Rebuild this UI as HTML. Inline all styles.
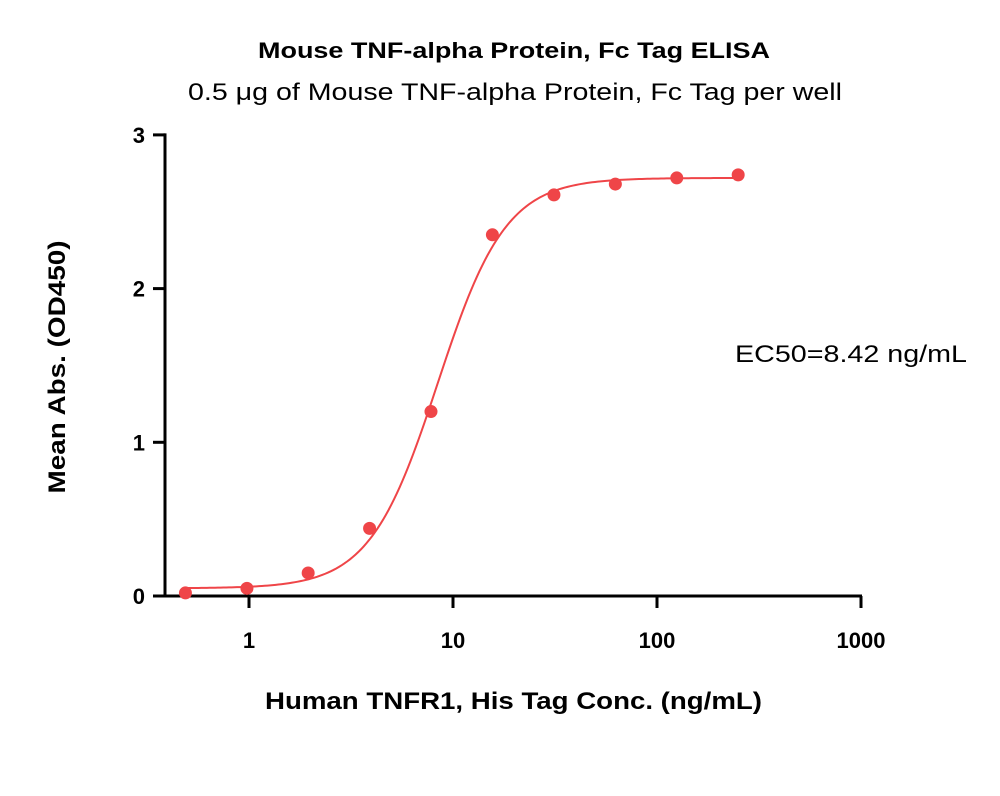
<!DOCTYPE html>
<html><head><meta charset="utf-8"><style>
body{margin:0;background:#fff}
svg text{font-family:"Liberation Sans",sans-serif}
</style></head><body>
<svg width="1000" height="791" viewBox="0 0 1000 791">
<text x="258" y="58" textLength="512" lengthAdjust="spacingAndGlyphs" font-size="22" font-weight="bold">Mouse TNF-alpha Protein, Fc Tag ELISA</text>
<text x="188" y="100" textLength="654" lengthAdjust="spacingAndGlyphs" font-size="24">0.5 μg of Mouse TNF-alpha Protein, Fc Tag per well</text>
<text x="735" y="362" textLength="232" lengthAdjust="spacingAndGlyphs" font-size="24">EC50=8.42 ng/mL</text>
<text transform="translate(65,367) rotate(-90)" text-anchor="middle" textLength="253" lengthAdjust="spacingAndGlyphs" font-size="24" font-weight="bold">Mean Abs. (OD450)</text>
<text x="265" y="709" textLength="497" lengthAdjust="spacingAndGlyphs" font-size="24" font-weight="bold">Human TNFR1, His Tag Conc. (ng/mL)</text>
<g id="axes"></g>
<g id="marks"></g>
</svg>
<script>
const xConc=[0.488,0.977,1.95,3.9,7.8,15.6,31.25,62.5,125,250];
const yOD=[0.02,0.05,0.15,0.44,1.2,2.35,2.61,2.68,2.72,2.74];
const yTicks=[0,1,2,3];
const xTicks=[1,10,100,1000];
const fitParams=[0.05,2.72,8.42,2.6];
const NS="http://www.w3.org/2000/svg";
const X=v=>249+204*Math.log10(v);
const Y=v=>596-153.7*v;
function mk(t,a,p){const e=document.createElementNS(NS,t);for(const k in a)e.setAttribute(k,a[k]);p.appendChild(e);return e;}
const ax=document.getElementById('axes'),mg=document.getElementById('marks');
let l=mk('line',{x1:165,y1:Y(3)-1.5,x2:165,y2:597.5,stroke:'#000','stroke-width':3},ax);


l=mk('line',{x1:163.5,y1:596,x2:862,y2:596,stroke:'#000','stroke-width':3},ax);


yTicks.forEach(t=>{
 const tk=mk('line',{x1:153,x2:165,y1:Y(t),y2:Y(t),stroke:'#000','stroke-width':3},ax);
 
 
 const tx=mk('text',{x:145,y:Y(t)+8,'text-anchor':'end','font-size':22,'font-weight':'bold'},ax);
 tx.textContent=t;
 
 
});
xTicks.forEach(t=>{
 const tk=mk('line',{x1:X(t),x2:X(t),y1:596,y2:608,stroke:'#000','stroke-width':3},ax);
 
 
 const tx=mk('text',{x:X(t),y:648,'text-anchor':'middle','font-size':22,'font-weight':'bold'},ax);
 tx.textContent=t;
 
 
});
const [b,tp,ec,h]=fitParams;
let d='';
for(let i=0;i<=200;i++){const lv=Math.log10(0.5)+i/200*(Math.log10(250)-Math.log10(0.5));const c=Math.pow(10,lv);
 const v=b+(tp-b)/(1+Math.pow(ec/c,h));d+=(i?'L':'M')+X(c).toFixed(2)+','+Y(v).toFixed(2);}
const cv=mk('path',{d:d,fill:'none',stroke:'#ef4548','stroke-width':2},mg);


xConc.forEach((c,i)=>{
 const p=mk('circle',{cx:X(c),cy:Y(yOD[i]),r:6.5,fill:'#ef4548'},mg);
 
 
});
</script>
</body></html>
